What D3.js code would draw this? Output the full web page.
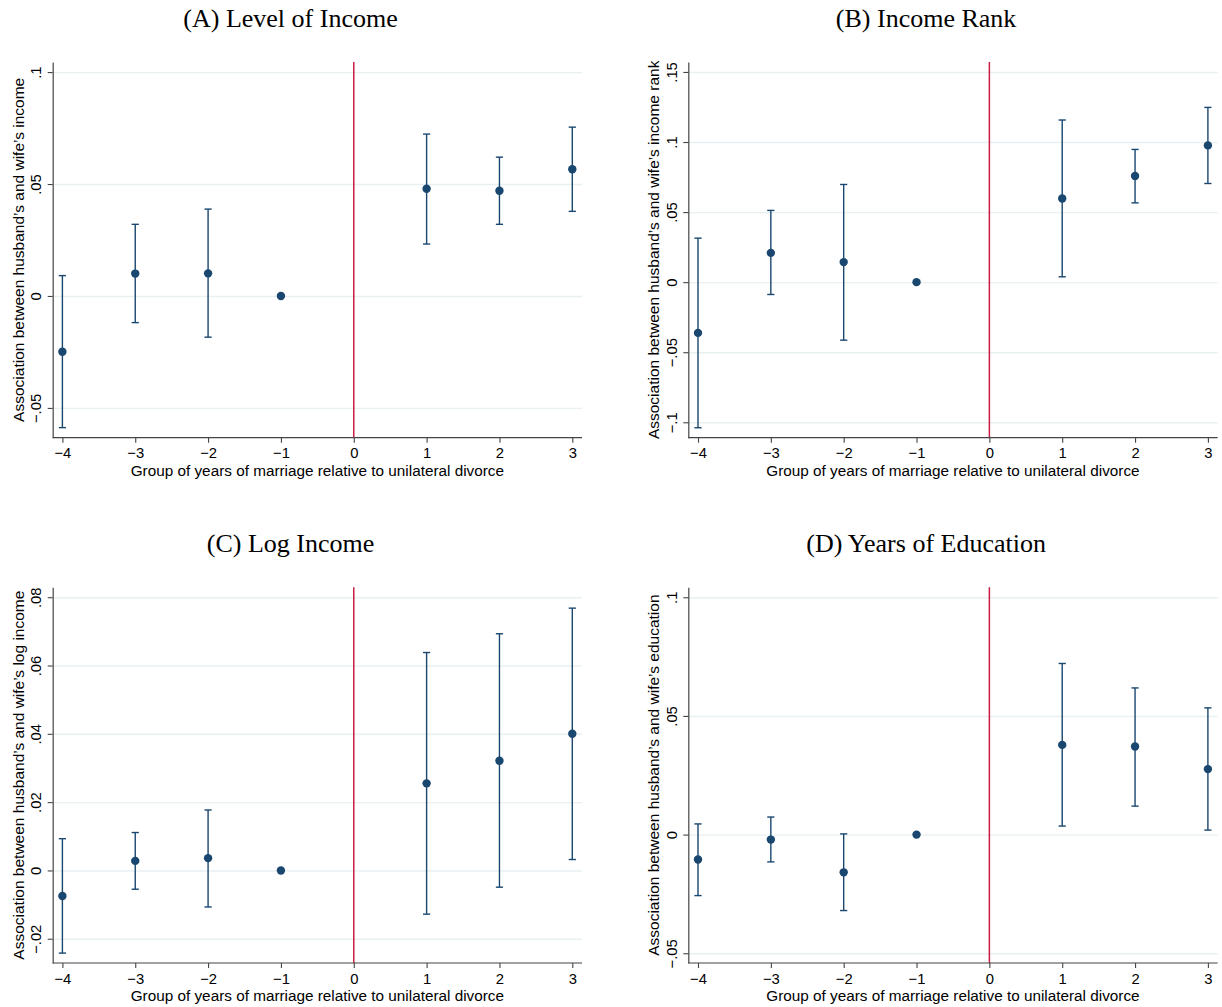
<!DOCTYPE html>
<html>
<head>
<meta charset="utf-8">
<script src="https://cdn.jsdelivr.net/npm/d3@7"></script>
<style>
  body { margin: 0; background: #fff; }
  text { font-family: "Liberation Sans", Arial, sans-serif; fill: #000; }
  .title { font-family: "Liberation Serif", "Times New Roman", serif; font-size: 26px; }
</style>
</head>
<body>
<div id="chart"></div>
<script>
// groups of years relative to unilateral divorce (-1 is the omitted group)
var periods = [-4, -3, -2, -1, 1, 2, 3];
var xTicks = [-4, -3, -2, -1, 0, 1, 2, 3];

// (A) level of income
var levelEst = [-0.0249, 0.0100, 0.0101, 0, 0.0479, 0.0470, 0.0566];
var levelLo  = [-0.0588, -0.0119, -0.0184, null, 0.0232, 0.0320, 0.0378];
var levelHi  = [0.0091, 0.0320, 0.0388, null, 0.0723, 0.0620, 0.0754];
var levelTicks = [-0.05, 0, 0.05, 0.1];

// (B) income rank
var rankEst = [-0.0362, 0.0209, 0.0143, 0, 0.0597, 0.0757, 0.0976];
var rankLo  = [-0.1039, -0.0088, -0.0414, null, 0.0038, 0.0566, 0.0704];
var rankHi  = [0.0314, 0.0512, 0.0697, null, 0.1157, 0.0947, 0.1247];
var rankTicks = [-0.1, -0.05, 0, 0.05, 0.1, 0.15];

// (C) log income
var logEst = [-0.0075, 0.0028, 0.0036, 0, 0.0255, 0.0321, 0.0400];
var logLo  = [-0.0242, -0.0055, -0.0107, null, -0.0128, -0.0049, 0.0032];
var logHi  = [0.0093, 0.0111, 0.0177, null, 0.0638, 0.0693, 0.0768];
var logTicks = [-0.02, 0, 0.02, 0.04, 0.06, 0.08];

// (D) years of education
var eduEst = [-0.0105, -0.0021, -0.0159, 0, 0.0378, 0.0371, 0.0276];
var eduLo  = [-0.0257, -0.0115, -0.0320, null, 0.0036, 0.0120, 0.0019];
var eduHi  = [0.0045, 0.0074, 0.0003, null, 0.0721, 0.0618, 0.0534];
var eduTicks = [-0.05, 0, 0.05, 0.1];

var w = 1222, h = 1007;
var navy = "#1a476f";

var svg = d3.select("#chart").append("svg")
    .attr("width", w)
    .attr("height", h);

// plot box inside each panel
var plotLeft = 52.7, plotTop = 62, pw = 529.3, ph = 375.7, pad = 9.7;

// Stata-style labels: drop leading zero, use a real minus sign
function stataFmt(v) {
    var s = String(Math.round(v * 1000) / 1000);
    s = s.replace(/^0\./, ".").replace(/^-0\./, "-.");
    return s.replace("-", "\u2212");
}

function drawPanel(ox, oy, title, ytitle, est, lo, hi, yTicks, yDomain) {
    var g = svg.append("g").attr("transform", "translate(" + ox + "," + oy + ")");

    var x = d3.scaleLinear().domain([-4, 3]).range([plotLeft + pad, plotLeft + pw - pad]);
    var y = d3.scaleLinear().domain(yDomain).range([plotTop + ph, plotTop]);

    // title
    g.append("text")
        .attr("class", "title")
        .attr("x", 290.5)
        .attr("y", 26.5)
        .attr("text-anchor", "middle")
        .text(title);

    // gridlines
    g.append("g")
        .attr("transform", "translate(" + plotLeft + ",0)")
        .call(d3.axisLeft(y).tickValues(yTicks).tickSize(-pw).tickFormat(""))
        .call(s => s.select(".domain").remove())
        .selectAll("line")
        .attr("stroke", "#e8f0f2")
        .attr("stroke-width", 1.4);

    // vertical reference line at 0
    g.append("line")
        .attr("x1", x(0)).attr("x2", x(0))
        .attr("y1", plotTop).attr("y2", plotTop + ph)
        .attr("stroke", "#c81e44")
        .attr("stroke-width", 1.5);

    // y axis
    var yAxis = g.append("g")
        .attr("transform", "translate(" + plotLeft + ",0)")
        .call(d3.axisLeft(y).tickValues(yTicks).tickSize(5).tickSizeOuter(0).tickFormat(stataFmt));
    yAxis.select(".domain").attr("stroke", "#444").attr("stroke-width", 1.2);
    yAxis.selectAll(".tick line").attr("stroke", "#444").attr("stroke-width", 1.1);
    yAxis.selectAll(".tick text")
        .attr("x", 0).attr("y", -11.5).attr("dy", 0)
        .attr("transform", "rotate(-90)")
        .style("text-anchor", "middle")
        .style("font-size", "14.8px")
        .style("font-family", "Liberation Sans, Arial, sans-serif")
        .attr("fill", "#000");

    // x axis
    var xAxis = g.append("g")
        .attr("transform", "translate(0," + (plotTop + ph) + ")")
        .call(d3.axisBottom(x).tickValues(xTicks).tickSize(5).tickSizeOuter(0).tickFormat(stataFmt));
    xAxis.select(".domain").remove();
    xAxis.append("line")
        .attr("x1", plotLeft).attr("x2", plotLeft + pw)
        .attr("stroke", "#444").attr("stroke-width", 1.2);
    xAxis.selectAll(".tick line").attr("stroke", "#444").attr("stroke-width", 1.1);
    xAxis.selectAll(".tick text")
        .attr("y", 20.8).attr("dy", 0)
        .style("font-size", "14.8px")
        .style("font-family", "Liberation Sans, Arial, sans-serif")
        .attr("fill", "#000");

    // axis titles
    g.append("text")
        .attr("x", plotLeft + pw / 2)
        .attr("y", 475.7)
        .attr("text-anchor", "middle")
        .style("font-size", "15.3px")
        .text("Group of years of marriage relative to unilateral divorce");

    g.append("text")
        .attr("transform", "translate(23.5," + (plotTop + ph / 2) + ") rotate(-90)")
        .attr("text-anchor", "middle")
        .style("font-size", "15.5px")
        .text(ytitle);

    // confidence intervals
    var rows = periods.map((p, i) => ({ p: p, est: est[i], lo: lo[i], hi: hi[i] }));
    var ci = rows.filter(d => d.lo !== null);
    var cap = 3.6;
    var bars = g.append("g")
        .attr("stroke", navy)
        .attr("stroke-width", 1.4);
    bars.selectAll("line.v").data(ci).join("line").attr("class", "v")
        .attr("x1", d => x(d.p)).attr("x2", d => x(d.p))
        .attr("y1", d => y(d.lo)).attr("y2", d => y(d.hi));
    bars.selectAll("line.hi").data(ci).join("line").attr("class", "hi")
        .attr("x1", d => x(d.p) - cap).attr("x2", d => x(d.p) + cap)
        .attr("y1", d => y(d.hi)).attr("y2", d => y(d.hi));
    bars.selectAll("line.lo").data(ci).join("line").attr("class", "lo")
        .attr("x1", d => x(d.p) - cap).attr("x2", d => x(d.p) + cap)
        .attr("y1", d => y(d.lo)).attr("y2", d => y(d.lo));

    // point estimates
    g.append("g").selectAll("circle").data(rows).join("circle")
        .attr("cx", d => x(d.p))
        .attr("cy", d => y(d.est))
        .attr("r", 4.2)
        .attr("fill", navy);
}

var dx = 635.6, dy = 525.3;
drawPanel(0, 0, "(A) Level of Income", "Association between husband\u2019s and wife\u2019s income",
    levelEst, levelLo, levelHi, levelTicks, [-0.0633, 0.1045]);
drawPanel(dx, 0, "(B) Income Rank", "Association between husband\u2019s and wife\u2019s income rank",
    rankEst, rankLo, rankHi, rankTicks, [-0.111, 0.1571]);
drawPanel(0, dy, "(C) Log Income", "Association between husband\u2019s and wife\u2019s log income",
    logEst, logLo, logHi, logTicks, [-0.0271, 0.0829]);
drawPanel(dx, dy, "(D) Years of Education", "Association between husband\u2019s and wife\u2019s education",
    eduEst, eduLo, eduHi, eduTicks, [-0.0541, 0.1042]);
</script>
</body>
</html>
